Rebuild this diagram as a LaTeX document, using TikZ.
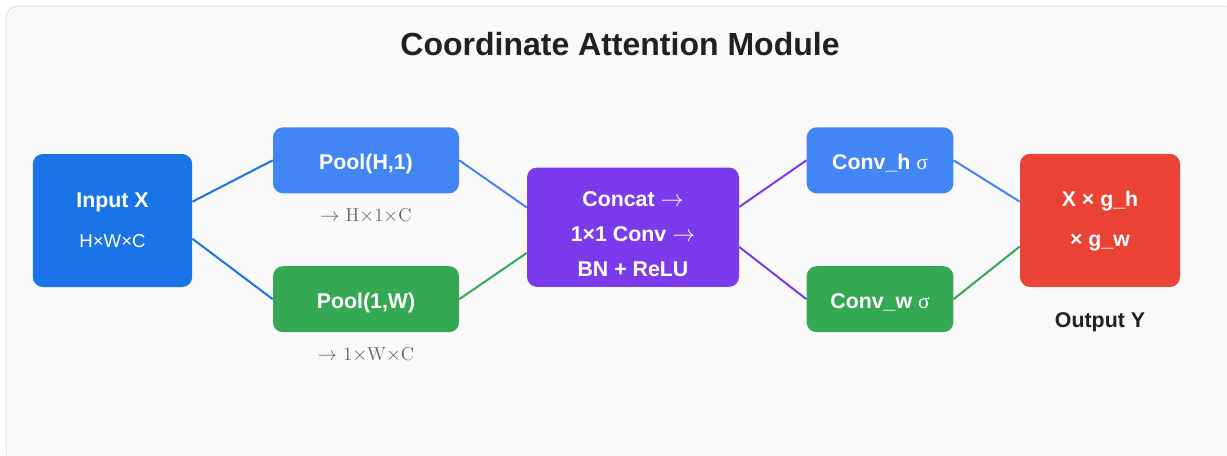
\documentclass[tikz,border=0pt]{standalone}
\usepackage{fontspec}
\setsansfont{Liberation Sans}
\newfontfamily\sigmafont{Liberation Serif}
\usetikzlibrary{positioning}

\definecolor{inblue}{HTML}{1A73E8}
\definecolor{poolblue}{HTML}{4285F4}
\definecolor{poolgreen}{HTML}{34A853}
\definecolor{mixpurple}{HTML}{7C3AED}
\definecolor{outred}{HTML}{EA4335}
\definecolor{inkdark}{HTML}{202124}
\definecolor{inkgray}{HTML}{5F6368}
\definecolor{panel}{HTML}{F9F9F9}
\definecolor{panelline}{HTML}{E3E3E3}

\begin{document}
\begin{tikzpicture}[
  x=0.75pt, y=-0.75pt,
  box/.style={rectangle, rounded corners=7.5pt, inner sep=0pt, text=white, align=center,
    text depth=0pt, font=\sffamily\bfseries\fontsize{16}{30}\selectfont},
  bigbox/.style={box, minimum width=119.5pt, minimum height=99.75pt},
  poolbox/.style={box, text height=14.5pt, minimum width=139.5pt, minimum height=49.5pt},
  convbox/.style={box, text height=14.5pt, minimum width=110pt, minimum height=49.5pt},
  dimtext/.style={inner sep=0pt, text=inkgray, font=\fontsize{14}{16}\selectfont},
  link/.style={line width=1.5pt}
]

\useasboundingbox (0,0) rectangle (1227,455);
\fill[white] (0,0) rectangle (1227,455);
\draw[panelline, fill=panel, line width=0.75pt, rounded corners=9pt] (6,6) rectangle (1236,464);

\node[inner sep=0pt, text=inkdark, font=\sffamily\bfseries\fontsize{24}{28}\selectfont] (title) at (620,44) {Coordinate Attention Module};

\node[bigbox, fill=inblue, text height=39.75pt] (input) at (112.5,220.5)
  {Input X\\{\mdseries\fontsize{14}{30}\selectfont H×W×C}};
\node[poolbox, fill=poolblue] (poolh) at (366,160.3) {Pool(H,1)};
\node[poolbox, fill=poolgreen] (poolw) at (366,299.2) {Pool(1,W)};
\node[box, fill=mixpurple, minimum width=159pt, minimum height=89.5pt, text height=73.2pt,
  font=\sffamily\bfseries\fontsize{16}{26.25}\selectfont] (concat) at (633,227.2)
  {Concat $\rightarrow$\\1×1 Conv $\rightarrow$\\BN + ReLU};
\node[convbox, fill=poolblue] (convh) at (880,160.3) {Conv\_h {\sigmafont\mdseries σ}};
\node[convbox, fill=poolgreen] (convw) at (880,299.2) {Conv\_w {\sigmafont\mdseries σ}};
\node[bigbox, fill=outred, minimum width=120pt, text height=39.45pt] (output) at (1100,220.4)
  {X × g\_h\\× g\_w};

\node[dimtext, below=11pt of poolh] (poolhsize) {$\rightarrow$ H$\times$1$\times$C};
\node[dimtext, below=11pt of poolw] (poolwsize) {$\rightarrow$ 1$\times$W$\times$C};
\node[inner sep=0pt, text=inkdark, font=\sffamily\bfseries\fontsize{16}{18}\selectfont,
  below=18.5pt of output] (outlabel) {Output Y};

\draw[link, inblue] ([yshift=14.1pt]input.east) -- (poolh.west);
\draw[link, inblue] ([yshift=-13.7pt]input.east) -- (poolw.west);
\draw[link, poolblue] (poolh.east) -- ([yshift=14.8pt]concat.west);
\draw[link, poolgreen] (poolw.east) -- ([yshift=-19.3pt]concat.west);
\draw[link, mixpurple] ([yshift=15.2pt]concat.east) -- (convh.west);
\draw[link, mixpurple] ([yshift=-14.8pt]concat.east) -- (convw.west);
\draw[link, poolblue] (convh.east) -- ([yshift=14.1pt]output.west);
\draw[link, poolgreen] (convw.east) -- ([yshift=-19.6pt]output.west);

\end{tikzpicture}
\end{document}
